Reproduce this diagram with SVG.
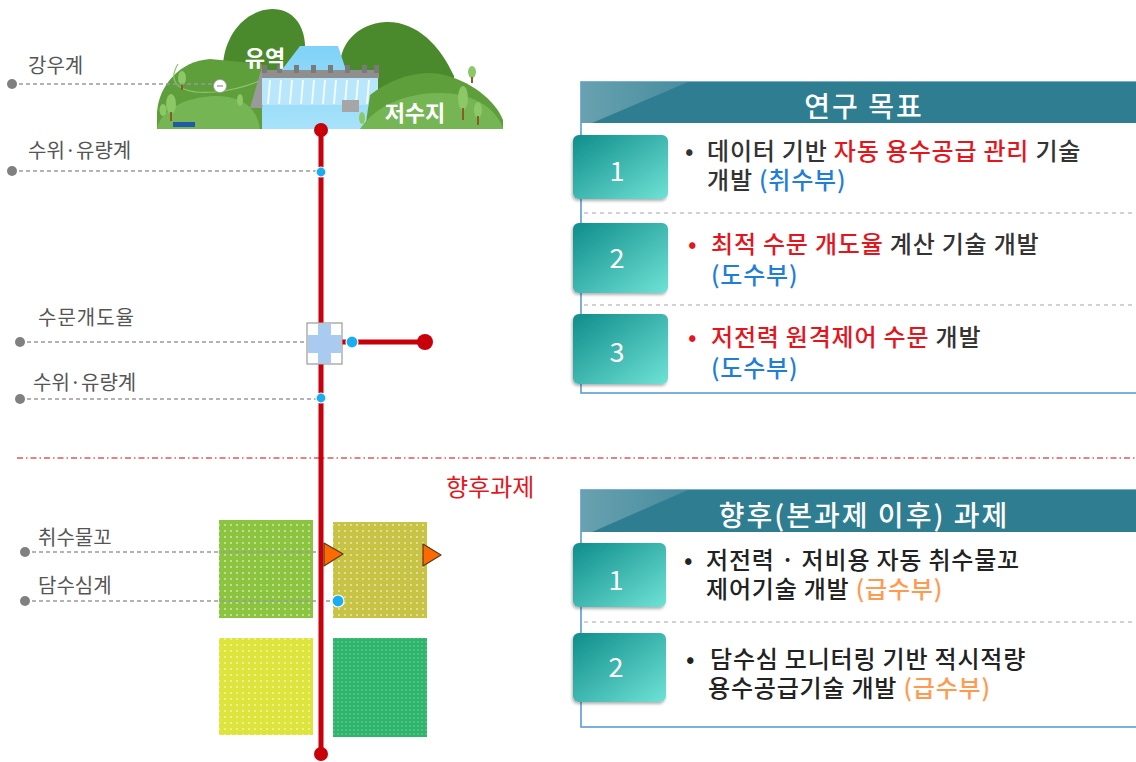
<svg xmlns="http://www.w3.org/2000/svg" width="1136" height="762" viewBox="0 0 1136 762">
  <defs>
    <style>
      .kr { font-family: "Noto Sans CJK KR", "Noto Sans", sans-serif; }
      .lbl { font-size: 20px; fill: #555555; }
      .body { font-size: 24px; fill: #333333; font-weight: 500; letter-spacing: 0.8px; }
      .body2 { font-size: 24px; fill: #222222; font-weight: 500; letter-spacing: 0.8px; }
      .red { fill: #e3161e; }
      .blue { fill: #1f7fd6; }
      .orange { fill: #ff9a50; }
      .num { font-size: 27px; fill: #ffffff; text-anchor: middle; }
      .title { font-size: 28px; fill: #ffffff; text-anchor: middle; font-weight: 500; letter-spacing: 2px; }
      .guide { stroke: #9a9a9a; stroke-width: 1.5; stroke-dasharray: 4 3; fill: none; }
      .gdot { fill: #808080; }
      .bdot { fill: #1aaef0; stroke: #ffffff; stroke-width: 1.2; }
      .sep { stroke: #c4c4c4; stroke-width: 1.3; stroke-dasharray: 4 4; }
      .hill-dark { fill: #4b8a2c; }
      .hill-mid { fill: #5e9f3c; }
      .hill-light { fill: #76b554; }
      .tree { fill: #8cc865; }
      .trunk { fill: #8b5a2b; }
      .tri { fill: #ff6a00; stroke: #5a3a1a; stroke-width: 1.2; stroke-linejoin: round; }
    </style>
    <linearGradient id="numGrad" x1="0" y1="0" x2="1" y2="1">
      <stop offset="0" stop-color="#0f8d8b"/>
      <stop offset="1" stop-color="#6fe2d5"/>
    </linearGradient>
    <linearGradient id="hdrShine" x1="0" y1="0" x2="1" y2="0">
      <stop offset="0" stop-color="#ffffff" stop-opacity="0.28"/>
      <stop offset="1" stop-color="#ffffff" stop-opacity="0.12"/>
    </linearGradient>
    <linearGradient id="waterGrad" x1="0" y1="0" x2="0" y2="1">
      <stop offset="0" stop-color="#7fd2f7"/>
      <stop offset="1" stop-color="#a8e2fa"/>
    </linearGradient>
    <pattern id="dots" width="6" height="6" patternUnits="userSpaceOnUse">
      <circle cx="3" cy="3" r="0.9" fill="#ffffff" fill-opacity="0.65"/>
    </pattern>
    <pattern id="dotsFine" width="4" height="4" patternUnits="userSpaceOnUse">
      <circle cx="2" cy="2" r="0.7" fill="#ffffff" fill-opacity="0.45"/>
    </pattern>
    <filter id="shadow" x="-10%" y="-10%" width="130%" height="130%">
      <feDropShadow dx="-1" dy="2" stdDeviation="1.5" flood-color="#000000" flood-opacity="0.3"/>
    </filter>
  </defs>

  <!-- reservoir landscape -->
  <g id="scene">
    <path class="hill-dark" d="M223,64 C225,35 245,10 272,9 C293,9 304,25 305,45 L305,80 L223,80 Z"/>
    <path class="hill-dark" d="M340,72 C338,45 356,24 386,22 C416,21 440,45 454,76 L454,105 L340,105 Z"/>
    <path fill="url(#waterGrad)" d="M300,46 L338,46 L346,70 L372,108 L380,129 L245,129 L257,110 L262,96 Z"/>
    <path class="hill-mid" d="M157,129 L157,112 C159,85 180,61 210,59 L262,64 L262,129 Z"/>
    <path fill="none" stroke="#8dc46c" stroke-width="1.2" d="M178,64 C168,80 175,95 215,92 C238,90 252,84 262,80"/>
    <path class="hill-light" d="M157,129 C160,110 185,97 215,96 C243,96 257,108 260,129 Z"/>
    <!-- dam -->
    <path fill="#9a9a9a" d="M262,67 L250,108 L262,108 L270,77 Z"/>
    <rect x="262" y="77" width="116" height="28" fill="#b8e6fb"/>
    <g stroke="#ffffff" stroke-width="2" stroke-opacity="0.8">
      <line x1="270" y1="80" x2="268" y2="104"/>
      <line x1="281" y1="80" x2="279" y2="104"/>
      <line x1="292" y1="80" x2="290" y2="104"/>
      <line x1="303" y1="80" x2="301" y2="104"/>
      <line x1="314" y1="80" x2="312" y2="104"/>
      <line x1="325" y1="80" x2="323" y2="104"/>
      <line x1="336" y1="80" x2="334" y2="104"/>
      <line x1="347" y1="80" x2="345" y2="104"/>
      <line x1="358" y1="80" x2="356" y2="104"/>
      <line x1="369" y1="80" x2="367" y2="104"/>
    </g>
    <rect x="262" y="70" width="117" height="8" fill="#8f8f8f"/>
    <g fill="#7a7a7a">
      <rect x="262" y="65" width="5" height="8"/>
      <rect x="277" y="65" width="5" height="8"/>
      <rect x="294" y="65" width="5" height="8"/>
      <rect x="311" y="65" width="5" height="8"/>
      <rect x="328" y="65" width="5" height="8"/>
      <rect x="345" y="65" width="5" height="8"/>
      <rect x="362" y="65" width="5" height="8"/>
      <rect x="374" y="65" width="5" height="8"/>
    </g>
    <rect x="342" y="100" width="17" height="12" fill="#a6a6a6"/>
    <path class="hill-mid" d="M365,129 L370,95 C390,80 415,70 440,74 C470,80 495,100 503,120 L503,129 Z"/>
    <path class="hill-light" d="M360,129 C375,106 405,93 440,93 C470,93 496,106 503,129 Z"/>
    <!-- trees -->
    <ellipse class="tree" cx="182" cy="78" rx="4" ry="7"/>
    <rect class="trunk" x="181" y="84" width="2" height="6"/>
    <ellipse class="tree" cx="171" cy="104" rx="5" ry="10"/>
    <rect class="trunk" x="170" y="112" width="2" height="9"/>
    <ellipse class="tree" cx="163" cy="110" rx="3.5" ry="6"/>
    <ellipse class="tree" cx="240" cy="100" rx="3" ry="6"/>
    <ellipse class="tree" cx="472" cy="72" rx="4" ry="6"/>
    <rect class="trunk" x="471" y="77" width="2" height="6"/>
    <ellipse class="tree" cx="463" cy="98" rx="5" ry="12"/>
    <rect class="trunk" x="462" y="108" width="2" height="12"/>
    <ellipse class="tree" cx="478" cy="110" rx="4" ry="8"/>
    <rect class="trunk" x="477" y="116" width="2" height="9"/>
    <ellipse class="tree" cx="362" cy="118" rx="3" ry="6"/>
    <!-- sensor bar -->
    <rect x="173" y="122" width="22" height="5" fill="#1f5aa8"/>
    <text class="kr" x="265" y="66" font-size="22" font-weight="700" fill="#ffffff" text-anchor="middle">유역</text>
    <text class="kr" x="415" y="121" font-size="22" font-weight="700" fill="#ffffff" text-anchor="middle">저수지</text>
  </g>

  <!-- divider for follow-up work -->
  <g id="divider">
    <line x1="17" y1="458" x2="1136" y2="458" stroke="#e05a5a" stroke-width="1.3" stroke-dasharray="6 3 1.5 3"/>
    <text class="kr red" x="446" y="496" font-size="24">향후과제</text>
  </g>

  <!-- paddy plots -->
  <g id="plots">
    <g id="plot-tl"><rect x="219" y="520" width="94" height="98" fill="#8bc540"/><rect x="219" y="520" width="94" height="98" fill="url(#dots)"/></g>
    <g id="plot-tr"><rect x="333" y="522" width="94" height="96" fill="#c6c345"/><rect x="333" y="522" width="94" height="96" fill="url(#dots)"/></g>
    <g id="plot-bl"><rect x="219" y="638" width="94" height="97" fill="#dde43b"/><rect x="219" y="638" width="94" height="97" fill="url(#dots)"/></g>
    <g id="plot-br"><rect x="333" y="638" width="94" height="99" fill="#2db56b"/><rect x="333" y="638" width="94" height="99" fill="url(#dotsFine)"/></g>
  </g>

  <!-- sensor labels -->
  <g id="labels" class="kr lbl">
    <text x="28" y="73">강우계</text>
    <text x="28" y="158">수위·유량계</text>
    <text x="38" y="325" letter-spacing="1">수문개도율</text>
    <text x="33" y="390">수위·유량계</text>
    <text x="38" y="545">취수물꼬</text>
    <text x="38" y="593">담수심계</text>
  </g>

  <!-- connectors: guide lines, main canal and branch -->
  <g id="connectors">
    <line class="guide" x1="12" y1="84" x2="214" y2="84"/>
    <line class="guide" x1="12" y1="171" x2="321" y2="171"/>
    <line class="guide" x1="20" y1="342" x2="305" y2="342"/>
    <line class="guide" x1="20" y1="399" x2="321" y2="399"/>
    <line class="guide" x1="25" y1="552" x2="325" y2="552"/>
    <line class="guide" x1="25" y1="601" x2="338" y2="601"/>
    <circle class="gdot" cx="12" cy="84" r="5"/>
    <circle class="gdot" cx="12" cy="171" r="5"/>
    <circle class="gdot" cx="20" cy="342" r="5"/>
    <circle class="gdot" cx="20" cy="399" r="5"/>
    <circle class="gdot" cx="25" cy="552" r="5"/>
    <circle class="gdot" cx="25" cy="601" r="5"/>
    <circle cx="220" cy="86" r="6.5" fill="#ffffff" stroke="#9a9a9a" stroke-width="0.8"/>
    <line x1="217" y1="86" x2="223" y2="86" stroke="#777777" stroke-width="1"/>

    <line x1="321" y1="130" x2="321" y2="754" stroke="#c8000a" stroke-width="5"/>
    <circle cx="321" cy="130" r="7" fill="#c8000a"/>
    <circle cx="321" cy="754" r="7" fill="#c8000a"/>
    <line x1="340" y1="342" x2="425" y2="342" stroke="#c8000a" stroke-width="5"/>
    <circle cx="425" cy="342" r="8" fill="#c8000a"/>
  </g>

  <!-- sluice gate -->
  <g id="gate">
    <rect x="307" y="323" width="35" height="41" fill="#ffffff" stroke="#9a9a9a" stroke-width="1.2"/>
    <rect x="318" y="324" width="13" height="39" fill="#a9cbef"/>
    <rect x="308" y="335" width="33" height="18" fill="#a9cbef"/>
  </g>

  <!-- sensors -->
  <g id="sensors">
    <circle class="bdot" cx="321" cy="172" r="5"/>
    <circle class="bdot" cx="352" cy="342" r="6"/>
    <circle class="bdot" cx="321" cy="398" r="5"/>
    <circle class="bdot" cx="338" cy="601" r="6"/>
    <path class="tri" d="M324,543 L343,554 L324,566 Z"/>
    <path class="tri" d="M423,544 L441,555 L423,566 Z"/>
  </g>

  <!-- research goals panel -->
  <g id="panel-goals">
    <rect x="581" y="82" width="570" height="311" fill="#ffffff" stroke="#5b9bd5" stroke-width="1.6"/>
    <rect x="581" y="82" width="570" height="41" fill="#2e7d91"/>
    <path d="M581,82 L688,82 L592,123 L581,123 Z" fill="url(#hdrShine)"/>
    <text class="kr title" x="864" y="117">연구 목표</text>
    <line class="sep" x1="584" y1="213" x2="1136" y2="213"/>
    <line class="sep" x1="584" y1="305" x2="1136" y2="305"/>

    <g id="goal-1">
      <rect x="573" y="135" width="95" height="64" rx="6" fill="url(#numGrad)" filter="url(#shadow)"/>
      <text class="kr num" x="617" y="181">1</text>
      <text class="kr body" x="685" y="160">•</text>
      <text class="kr body" x="707" y="160">데이터 기반 <tspan class="red">자동 용수공급 관리</tspan> 기술</text>
      <text class="kr body" x="707" y="189">개발 <tspan class="blue">(취수부)</tspan></text>
    </g>
    <g id="goal-2">
      <rect x="573" y="223" width="95" height="70" rx="6" fill="url(#numGrad)" filter="url(#shadow)"/>
      <text class="kr num" x="617" y="268">2</text>
      <text class="kr body red" x="688" y="253">•</text>
      <text class="kr body" x="711" y="253"><tspan class="red">최적 수문 개도율</tspan> 계산 기술 개발</text>
      <text class="kr body blue" x="711" y="284">(도수부)</text>
    </g>
    <g id="goal-3">
      <rect x="573" y="314" width="95" height="70" rx="6" fill="url(#numGrad)" filter="url(#shadow)"/>
      <text class="kr num" x="617" y="362">3</text>
      <text class="kr body red" x="688" y="346">•</text>
      <text class="kr body" x="711" y="346"><tspan class="red">저전력 원격제어 수문</tspan> 개발</text>
      <text class="kr body blue" x="711" y="377">(도수부)</text>
    </g>
  </g>

  <!-- follow-up tasks panel -->
  <g id="panel-future">
    <rect x="581" y="490" width="570" height="237" fill="#ffffff" stroke="#5b9bd5" stroke-width="1.6"/>
    <rect x="581" y="490" width="570" height="42" fill="#2e7d91"/>
    <path d="M581,490 L688,490 L592,532 L581,532 Z" fill="url(#hdrShine)"/>
    <text class="kr title" x="864" y="526">향후(본과제 이후) 과제</text>
    <line class="sep" x1="584" y1="622" x2="1136" y2="622"/>

    <g id="task-1">
      <rect x="573" y="543" width="93" height="64" rx="6" fill="url(#numGrad)" filter="url(#shadow)"/>
      <text class="kr num" x="616" y="590">1</text>
      <text class="kr body2" x="684" y="569">•</text>
      <text class="kr body2" x="706" y="569">저전력 · 저비용 자동 취수물꼬</text>
      <text class="kr body2" x="706" y="598">제어기술 개발 <tspan class="orange">(급수부)</tspan></text>
    </g>
    <g id="task-2">
      <rect x="573" y="633" width="93" height="69" rx="6" fill="url(#numGrad)" filter="url(#shadow)"/>
      <text class="kr num" x="616" y="677">2</text>
      <text class="kr body2" x="686" y="668">•</text>
      <text class="kr body2" x="710" y="668">담수심 모니터링 기반 적시적량</text>
      <text class="kr body2" x="708" y="697">용수공급기술 개발 <tspan class="orange">(급수부)</tspan></text>
    </g>
  </g>
</svg>
